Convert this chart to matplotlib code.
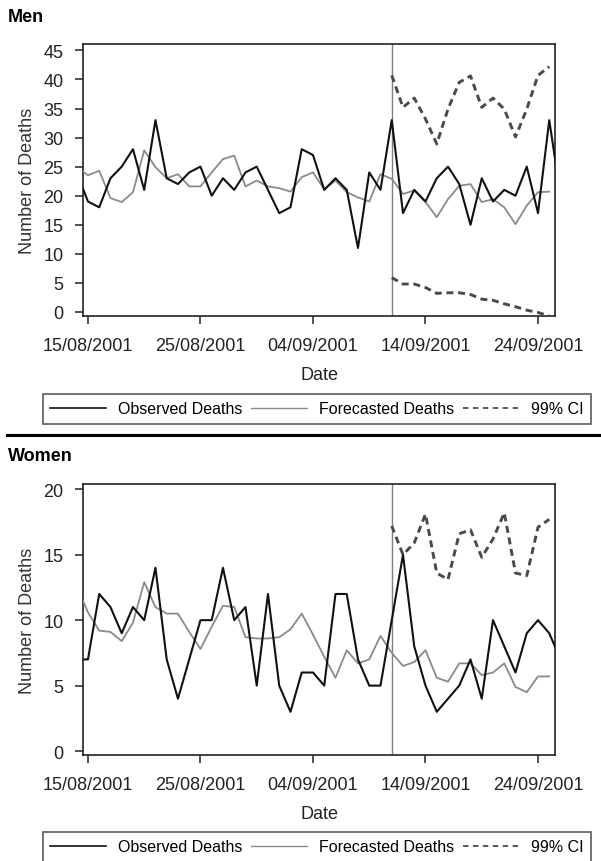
import numpy as np
import matplotlib
matplotlib.use("Agg")
import matplotlib.pyplot as plt
import matplotlib.dates as mdates
from matplotlib.lines import Line2D

plt.rcParams['font.family'] = ['Liberation Sans', 'DejaVu Sans']

# dates
obs_dates = np.arange(np.datetime64('2001-08-14'), np.datetime64('2001-09-27'))
fc_dates = np.arange(np.datetime64('2001-08-14'), np.datetime64('2001-09-26'))
ci_dates = np.arange(np.datetime64('2001-09-11'), np.datetime64('2001-09-26'))
tick_dates = np.array(['2001-08-15', '2001-08-25', '2001-09-04', '2001-09-14', '2001-09-24'],
                      dtype='datetime64[D]')
event_date = np.datetime64('2001-09-11')

# men
men_observed = [24, 19, 18, 23, 25, 28, 21, 33, 23, 22,
                24, 25, 20, 23, 21, 24, 25, 21,
                17, 18, 28, 27, 21, 23, 21, 11, 24, 21,
                33, 17, 21, 19, 23, 25, 22, 15, 23, 19,
                21, 20, 25, 17, 33, 20]
men_forecast = [25, 23.5, 24.3, 19.6, 18.9, 20.6, 27.8, 24.9, 23.0, 23.7,
                21.6, 21.6, 24.0, 26.3, 26.9, 21.6, 22.6, 21.6,
                21.3, 20.7, 23.2, 24.0, 21.1, 22.6, 20.6, 19.7, 19.0, 23.7,
                22.9, 20.3, 20.9, 18.9, 16.3, 19.4, 21.7, 22.0, 18.9, 19.4,
                18.0, 15.1, 18.3, 20.6, 20.7]
men_upper = [40.7, 35.2, 36.8, 33.2, 28.9, 34.9, 39.5, 40.6, 35.2, 36.8,
             34.9, 30.1, 34.9, 40.7, 42.2]
men_lower = [5.9, 4.8, 4.8, 4.2, 3.2, 3.3, 3.3, 3.0, 2.2, 2.0,
             1.4, 0.9, 0.3, -0.1, -0.7]

# women
women_observed = [7, 7, 12, 11, 9, 11, 10, 14, 7, 4,
                  7, 10, 10, 14, 10, 11, 5, 12,
                  5, 3, 6, 6, 5, 12, 12, 7, 5, 5,
                  10, 15, 8, 5, 3, 4, 5, 7, 4, 10,
                  8, 6, 9, 10, 9, 7]
women_forecast = [12.6, 10.6, 9.2, 9.1, 8.4, 9.8, 12.9, 11.0, 10.5, 10.5,
                  9.1, 7.8, 9.5, 11.1, 11.0, 8.7, 8.6, 8.6,
                  8.7, 9.3, 10.5, 8.9, 7.2, 5.6, 7.7, 6.7, 7.0, 8.8,
                  7.5, 6.5, 6.8, 7.7, 5.6, 5.3, 6.7, 6.7, 5.8, 6.0,
                  6.7, 4.9, 4.5, 5.7, 5.7]
women_upper = [17.2, 15.0, 15.9, 18.1, 13.6, 13.1, 16.6, 16.9, 14.8, 16.2,
               18.2, 13.6, 13.4, 17.1, 17.7]

W, H = 601, 862
fig = plt.figure(figsize=(W / 100, H / 100), dpi=100)

x_left = mdates.date2num(np.datetime64('2001-08-15')) - 0.44
x_right = mdates.date2num(np.datetime64('2001-09-25')) + 0.51


def panel(top_px, bottom_px, title, title_y, observed, forecast, upper, lower,
          yticks, ylim, legend_y):
    ax = fig.add_axes([83 / W, 1 - bottom_px / H, 472 / W, (bottom_px - top_px) / H])
    ax.plot(obs_dates, observed, color='#111111', lw=1.5, zorder=4)
    ax.plot(fc_dates, forecast, color='#8a8a8a', lw=1.3, zorder=3)
    ax.plot(ci_dates, upper, color='#4a4a4a', lw=2.1, ls=(0, (2.4, 1.6)), zorder=3)
    if lower is not None:
        ax.plot(ci_dates, lower, color='#4a4a4a', lw=2.1, ls=(0, (2.4, 1.6)), zorder=3)
    ax.axvline(event_date, color='#808080', lw=1.0, zorder=2)

    ax.set_xlim(x_left, x_right)
    ax.set_ylim(*ylim)
    ax.set_yticks(yticks)
    ax.set_xticks(tick_dates)
    ax.xaxis.set_major_formatter(mdates.DateFormatter('%d/%m/%Y'))
    ax.tick_params(direction='out', length=6, width=1.1, colors='#222222',
                   labelsize=13)
    ax.tick_params(axis='x', pad=9)
    ax.tick_params(axis='y', pad=8)
    for s in ax.spines.values():
        s.set_color('#222222')
        s.set_linewidth(1.2)
    ax.set_xlabel('Date', fontsize=13, color='#222222', labelpad=9)
    ax.set_ylabel('Number of Deaths', fontsize=13, color='#333333', labelpad=5)

    fig.text(8 / W, 1 - title_y / H, title, fontsize=13, fontweight='bold',
             va='center', ha='left')

    handles = [Line2D([], [], color='#111111', lw=1.2),
               Line2D([], [], color='#8a8a8a', lw=1.0),
               Line2D([], [], color='#4a4a4a', lw=1.3, ls=(0, (3, 2.5)))]
    leg = fig.legend(handles, ['Observed Deaths', 'Forecasted Deaths', '99% CI'],
                     ncol=3, loc='center', bbox_to_anchor=(317 / W, 1 - legend_y / H),
                     fontsize=11.5, frameon=True, fancybox=False, edgecolor='#333333',
                     handlelength=3.5, handletextpad=0.75, columnspacing=0.55,
                     borderpad=0.45)
    leg.get_frame().set_linewidth(1.2)
    return ax


panel(45, 317, 'Men', 18, men_observed, men_forecast, men_upper, men_lower,
      [0, 5, 10, 15, 20, 25, 30, 35, 40, 45], (-0.7, 46.1), 410)
panel(485, 756, 'Women', 457, women_observed, women_forecast, women_upper, None,
      [0, 5, 10, 15, 20], (-0.3, 20.4), 848)

fig.add_artist(Line2D([7 / W, 1.0], [1 - 436 / H, 1 - 436 / H], transform=fig.transFigure,
                      color='black', lw=2.2))

fig.savefig('out.png', dpi=100)
